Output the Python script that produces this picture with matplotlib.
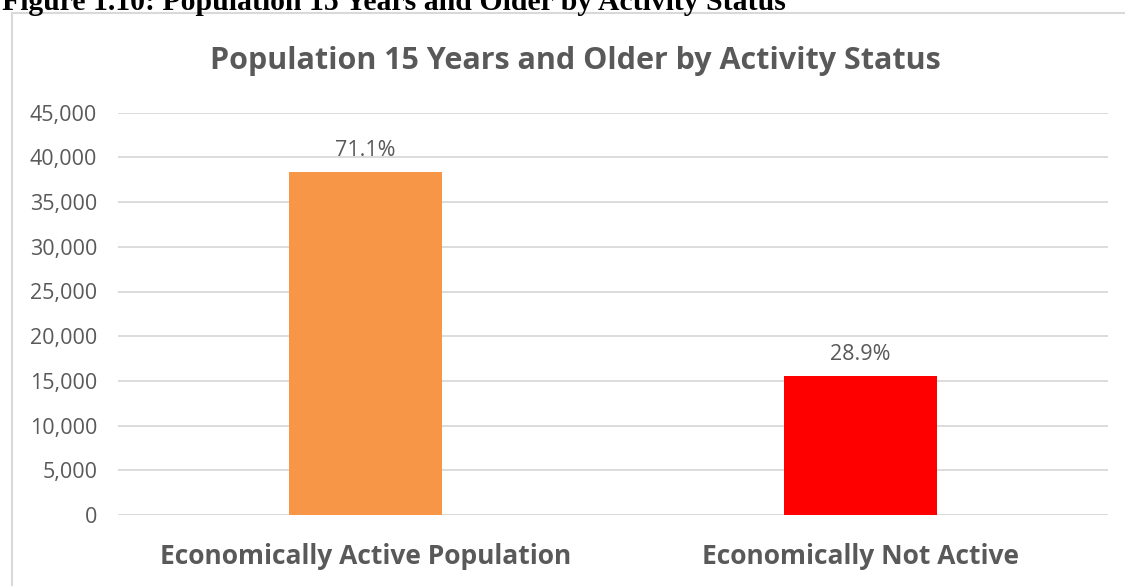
import matplotlib.pyplot as plt
from matplotlib.ticker import FuncFormatter
from matplotlib.lines import Line2D

categories = ["Economically Active Population", "Economically Not Active"]
population = [38330, 15560]
bar_colors = ["#F79646", "#FF0000"]
yticks = list(range(0, 45001, 5000))

caption = "Figure 1.10: Population 15 Years and Older by Activity Status"
title = "Population 15 Years and Older by Activity Status"

W, H = 1125, 586
fig = plt.figure(figsize=(W / 100, H / 100), dpi=100)
ax = fig.add_axes([118 / W, 1 - 515 / H, (1108 - 118) / W, (515 - 112.7) / H])

text_gray = "#595959"
sans = ["Open Sans", "DejaVu Sans"]

x = range(len(categories))
bars = ax.bar(x, population, width=0.31, color=bar_colors, zorder=3)

total = sum(population)
for b, v in zip(bars, population):
    ax.annotate(f"{v / total * 100:.1f}%", (b.get_x() + b.get_width() / 2, v),
                xytext=(0, 8), textcoords="offset points", ha="center", va="bottom",
                fontsize=15.5, color=text_gray, family=sans)

ax.set_xlim(-0.5, 1.5)
ax.set_ylim(0, 45000)
ax.set_yticks(yticks)
ax.yaxis.set_major_formatter(FuncFormatter(lambda v, p: f"{int(v):,}"))
ax.grid(axis="y", color="#D9D9D9", linewidth=1.3, zorder=0)
for s in ax.spines.values():
    s.set_visible(False)
ax.tick_params(axis="both", length=0)
ax.tick_params(axis="y", pad=15, labelsize=15.5, labelcolor=text_gray)
for lbl in ax.get_yticklabels():
    lbl.set_family(sans)
ax.set_xticks(list(x))
ax.set_xticklabels(categories, fontsize=19, fontweight="bold", color=text_gray, family=sans)
ax.tick_params(axis="x", pad=20)

fig.text(0.5 * (205 + 945) / W, 1 - 61 / H, title, ha="center", va="center",
         fontsize=22, fontweight="bold", color=text_gray, family=sans)

# chart frame (top and left edges)
fig.add_artist(Line2D([12 / W, 1.0], [1 - 13 / H, 1 - 13 / H], color="#D9D9D9", linewidth=1.5))
fig.add_artist(Line2D([12 / W, 12 / W], [0, 1 - 13 / H], color="#D9D9D9", linewidth=1.5))

# caption above the chart, partly cut off by the top edge
fig.text(2 / W, 1 - 10 / H, caption, ha="left", va="baseline",
         fontsize=21.4, fontweight="bold", color="black", family=["Liberation Serif"])

fig.savefig("out.png", dpi=100)
